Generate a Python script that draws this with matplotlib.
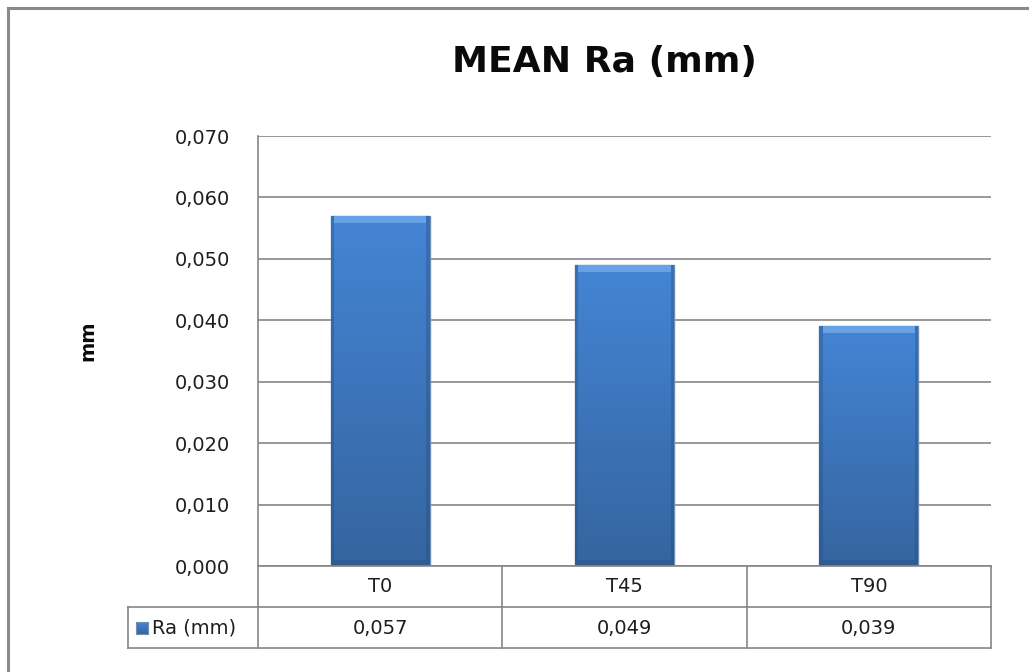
import numpy as np
import matplotlib
matplotlib.use("Agg")
import matplotlib.pyplot as plt
from matplotlib.lines import Line2D
from matplotlib.patches import Rectangle
from matplotlib.colors import LinearSegmentedColormap

plt.rcParams['font.family'] = ['DejaVu Sans']

categories = ["T0", "T45", "T90"]
ra_values = [0.057, 0.049, 0.039]
series_name = "Ra (mm)"
y_ticks = [0.000, 0.010, 0.020, 0.030, 0.040, 0.050, 0.060, 0.070]

W, H = 1029, 672
fig = plt.figure(figsize=(W / 100, H / 100), dpi=100)
fig.patch.set_facecolor("white")

txt_col = "#1e1e1e"
fs = 14

# chart frame (left and top edges)
frame_col = "#8a8a8a"
fig.add_artist(Line2D([8 / W, 8 / W], [0, 1 - 8 / H], color=frame_col, lw=2.2))
fig.add_artist(Line2D([8 / W, 1], [1 - 8 / H, 1 - 8 / H], color=frame_col, lw=2.2))

ax_l, ax_r, ax_t, ax_b = 258, 991, 136, 566
ax = fig.add_axes([ax_l / W, 1 - ax_b / H, (ax_r - ax_l) / W, (ax_b - ax_t) / H])
ax.set_xlim(-0.5, len(categories) - 0.5)
ax.set_ylim(0, 0.070)
ax.set_yticks(y_ticks)
ax.set_yticklabels([f"{v:.3f}".replace(".", ",") for v in y_ticks], fontsize=fs, color=txt_col)
ax.tick_params(axis="y", length=0, pad=20)
ax.set_xticks([])
for s in ["top", "right", "bottom"]:
    ax.spines[s].set_visible(False)
ax.spines["left"].set_color("#868686")
ax.spines["left"].set_linewidth(1.2)
ax.yaxis.grid(True, color="#868686", lw=1.2)
ax.set_axisbelow(True)

# bars with vertical gradient fill and a soft bevel
grad_cmap = LinearSegmentedColormap.from_list(
    "bluegrad", ["#35659f", "#3a6fb1", "#3f7ac3", "#4485d4"])
bar_w = 0.405
bars = ax.bar(range(len(categories)), ra_values, width=bar_w,
              color="#3d78c2", edgecolor="#6f8db5", linewidth=1.0, zorder=2)
for b, v in zip(bars, ra_values):
    x0 = b.get_x()
    img = ax.imshow(np.linspace(0, 1, 256).reshape(-1, 1), cmap=grad_cmap,
                    extent=[x0, x0 + bar_w, 0, v], origin="lower",
                    aspect="auto", zorder=2.5, interpolation="bicubic")
    img.set_clip_path(b)
    side = bar_w * 0.035
    ax.add_patch(Rectangle((x0, 0), side, v, facecolor="#244c7c",
                           edgecolor="none", alpha=0.35, zorder=3))
    ax.add_patch(Rectangle((x0 + bar_w - side, 0), side, v, facecolor="#244c7c",
                           edgecolor="none", alpha=0.35, zorder=3))
    ax.add_patch(Rectangle((x0 + side, v - 0.0011), bar_w - 2 * side, 0.0011,
                           facecolor="#74adee", edgecolor="none", alpha=0.75, zorder=3))
    ax.add_patch(Rectangle((x0 + side, 0), bar_w - 2 * side, 0.0009,
                           facecolor="#244c7c", edgecolor="none", alpha=0.35, zorder=3))
ax.set_xlim(-0.5, len(categories) - 0.5)
ax.set_ylim(0, 0.070)

# title and axis label
fig.text(604 / W, 1 - 72 / H, "MEAN Ra (mm)", ha="center", va="baseline",
         fontsize=26, fontweight="bold", color="#0a0a0a")
fig.text(88 / W, 1 - 341 / H, "mm", ha="center", va="center", rotation=90,
         fontsize=14, fontweight="bold", color="#0a0a0a")

# data table under the plot
row1_t, row1_b, row2_b = 566, 607, 648
hdr_l = 128
col_edges = [ax_l + i * (ax_r - ax_l) / len(categories) for i in range(len(categories) + 1)]
tc = "#868686"
def hline(x0, x1, y):
    fig.add_artist(Line2D([x0 / W, x1 / W], [1 - y / H, 1 - y / H], color=tc, lw=1.2))
def vline(x, y0, y1):
    fig.add_artist(Line2D([x / W, x / W], [1 - y0 / H, 1 - y1 / H], color=tc, lw=1.2))

hline(ax_l, ax_r, row1_t)
hline(hdr_l, ax_r, row1_b)
hline(hdr_l, ax_r, row2_b)
for x in col_edges:
    vline(x, row1_t, row2_b)
vline(hdr_l, row1_b, row2_b)

for i, (c, v) in enumerate(zip(categories, ra_values)):
    xc = (col_edges[i] + col_edges[i + 1]) / 2
    fig.text(xc / W, 1 - 586 / H, c, ha="center", va="center", fontsize=fs, color=txt_col)
    fig.text(xc / W, 1 - 628 / H, f"{v:.3f}".replace(".", ","), ha="center", va="center",
             fontsize=fs, color=txt_col)

# legend key in the table header
key = fig.add_axes([136 / W, 1 - 634 / H, 12 / W, 12 / H])
key.imshow(np.linspace(0, 1, 64).reshape(-1, 1), cmap=grad_cmap, origin="lower",
           aspect="auto", extent=[0, 1, 0, 1])
key.set_xticks([]); key.set_yticks([])
for s in key.spines.values():
    s.set_color("#6f8db5")
fig.text(152 / W, 1 - 628 / H, series_name, ha="left", va="center", fontsize=fs, color=txt_col)

fig.savefig("out.png", dpi=100)
